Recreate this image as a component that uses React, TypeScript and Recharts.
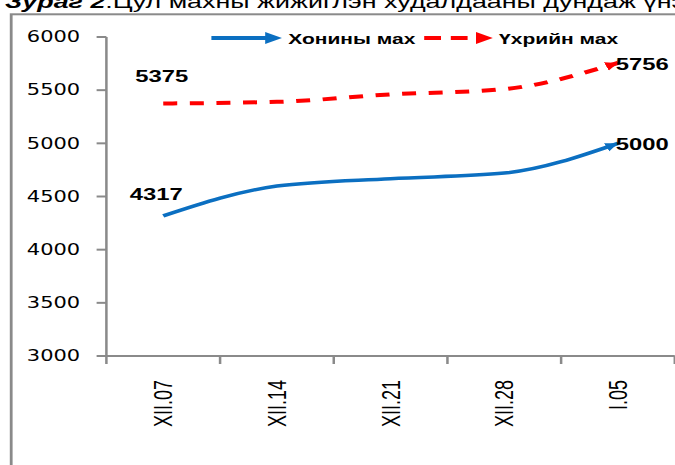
import { LineChart, Line, XAxis, YAxis } from 'recharts'

// The reference is a stretched screenshot (glyphs ~1.4x wider than tall), so the chart is
// drawn narrower and scaled on X to get the same proportions.
const S = 1.4
const W = 483
const H = 465

const categories = ['XII.07', 'XII.14', 'XII.21', 'XII.28', 'I.05']
const sheepMeat = [4317, 4598, 4668, 4720, 5000]
const beef = [5375, 5390, 5460, 5510, 5756]
const yTicks = [3000, 3500, 4000, 4500, 5000, 5500, 6000]

const data = categories.map((label, i) => ({ label, sheep: sheepMeat[i], beef: beef[i] }))

const BLUE = '#0b6fc1'
const RED = '#ff0000'
const AXIS = '#8a8a8a'
const SANS = '"Liberation Sans", Arial, sans-serif'

const series = [
  { key: 'sheep', name: 'Хонины мах', color: BLUE, dash: undefined, width: 3.5, marker: 'arrow-blue', firstDx: -5, firstDy: -22 },
  { key: 'beef', name: 'Үхрийн мах', color: RED, dash: '10 9', width: 4, marker: 'arrow-red', firstDx: -1, firstDy: -28 },
]

function DateTick(props: any) {
  const { x, y, payload, index, visibleTicksCount } = props
  const half = payload?.offset ?? 0
  const last = index === visibleTicksCount - 1
  return (
    <g>
      <line x1={x - half} x2={x - half} y1={y} y2={y + 8} stroke={AXIS} strokeWidth={1.8} />
      {last && <line x1={x + half} x2={x + half} y1={y} y2={y + 8} stroke={AXIS} strokeWidth={1.8} />}
      <text transform={`translate(${x},${y + 24}) rotate(-90)`} textAnchor="end" dy="0.36em"
        fontSize={18} fontFamily={SANS} fill="#000">{payload.value}</text>
    </g>
  )
}

// solo el primer y el último valor llevan etiqueta, como en el original
function endLabel(s: typeof series[number]) {
  return (p: any) => {
    const { x, y, value, index } = p
    if (index === 0) {
      return <text x={x + s.firstDx} y={y + s.firstDy} textAnchor="middle" dominantBaseline="central"
        fontSize={17} fontWeight="bold" fontFamily={SANS} fill="#000">{value}</text>
    }
    if (index === categories.length - 1) {
      return <text x={x - 1.5} y={y + 1} textAnchor="start" dominantBaseline="central"
        fontSize={17} fontWeight="bold" fontFamily={SANS} fill="#000">{value}</text>
    }
    return null
  }
}

const legendX = [151, 303]

export default function App() {
  return (
    <div style={{ position: 'absolute', left: 0, top: 0, width: 675, height: H, overflow: 'hidden', background: '#fff' }}>
      <div style={{ position: 'absolute', left: 0, top: 0, width: W, height: H, transform: `scaleX(${S})`, transformOrigin: '0 0' }}>
        <svg width={W} height={H} style={{ position: 'absolute', left: 0, top: 0 }}>
          <defs>
            {series.map(s => (
              <marker key={s.marker} id={s.marker} markerUnits="userSpaceOnUse" markerWidth={10} markerHeight={10}
                refX={9} refY={4.5} orient="auto">
                <path d="M0,0 L9,4.5 L0,9 Z" fill={s.color} />
              </marker>
            ))}
          </defs>
          <text x={3.6} y={7.5} fontSize={19.2} fontFamily={SANS} fill="#000">
            <tspan fontWeight="bold" fontStyle="italic">Зураг 2</tspan>
            <tspan>.Цул махны жижиглэн худалдааны дундаж үнэ</tspan>
          </text>
          <rect x={8} y={14.3} width={W + 20} height={H} fill="none" stroke={AXIS} strokeWidth={2} />
        </svg>

        <div style={{ position: 'absolute', left: 0, top: 0 }}>
          <LineChart width={W} height={H} data={data} margin={{ top: 37, right: 1, bottom: 49, left: 0 }}>
            <XAxis dataKey="label" scale="band" height={60} tickLine={false} tickSize={0} tickMargin={0}
              axisLine={{ stroke: AXIS, strokeWidth: 2 }} tick={<DateTick />} interval={0} />
            <YAxis domain={[3000, 6000]} ticks={yTicks} width={76} tickSize={7} tickMargin={11.7}
              axisLine={{ stroke: AXIS, strokeWidth: 1.8 }} tickLine={{ stroke: AXIS, strokeWidth: 2 }}
              tick={{ fill: '#000', fontSize: 15, fontFamily: '"DejaVu Sans", Verdana, sans-serif' }}
              allowDataOverflow />
            {series.map(s => (
              <Line key={s.key} dataKey={s.key} name={s.name} type="monotone" stroke={s.color}
                strokeWidth={s.width} strokeDasharray={s.dash} dot={false} activeDot={false}
                markerEnd={`url(#${s.marker})`} label={endLabel(s)} isAnimationActive={false} />
            ))}
          </LineChart>
        </div>

        <svg width={W} height={60} style={{ position: 'absolute', left: 0, top: 0 }}>
          {series.map((s, i) => {
            const x0 = legendX[i]
            const lineEnd = s.dash ? x0 + 31 : x0 + 40
            const tip = x0 + (s.dash ? 49 : 50.4)
            return (
              <g key={s.key}>
                <line x1={x0} x2={lineEnd} y1={38} y2={38} stroke={s.color} strokeWidth={4}
                  strokeDasharray={s.dash ? '12 7' : undefined} />
                <path d={`M${tip - 12},32 L${tip},38 L${tip - 12},44 Z`} fill={s.color} />
                <text x={tip + 4.5} y={39} dominantBaseline="central" fontSize={15} fontWeight="bold"
                  fontFamily={SANS} fill="#000">{s.name}</text>
              </g>
            )
          })}
        </svg>
      </div>
    </div>
  )
}
